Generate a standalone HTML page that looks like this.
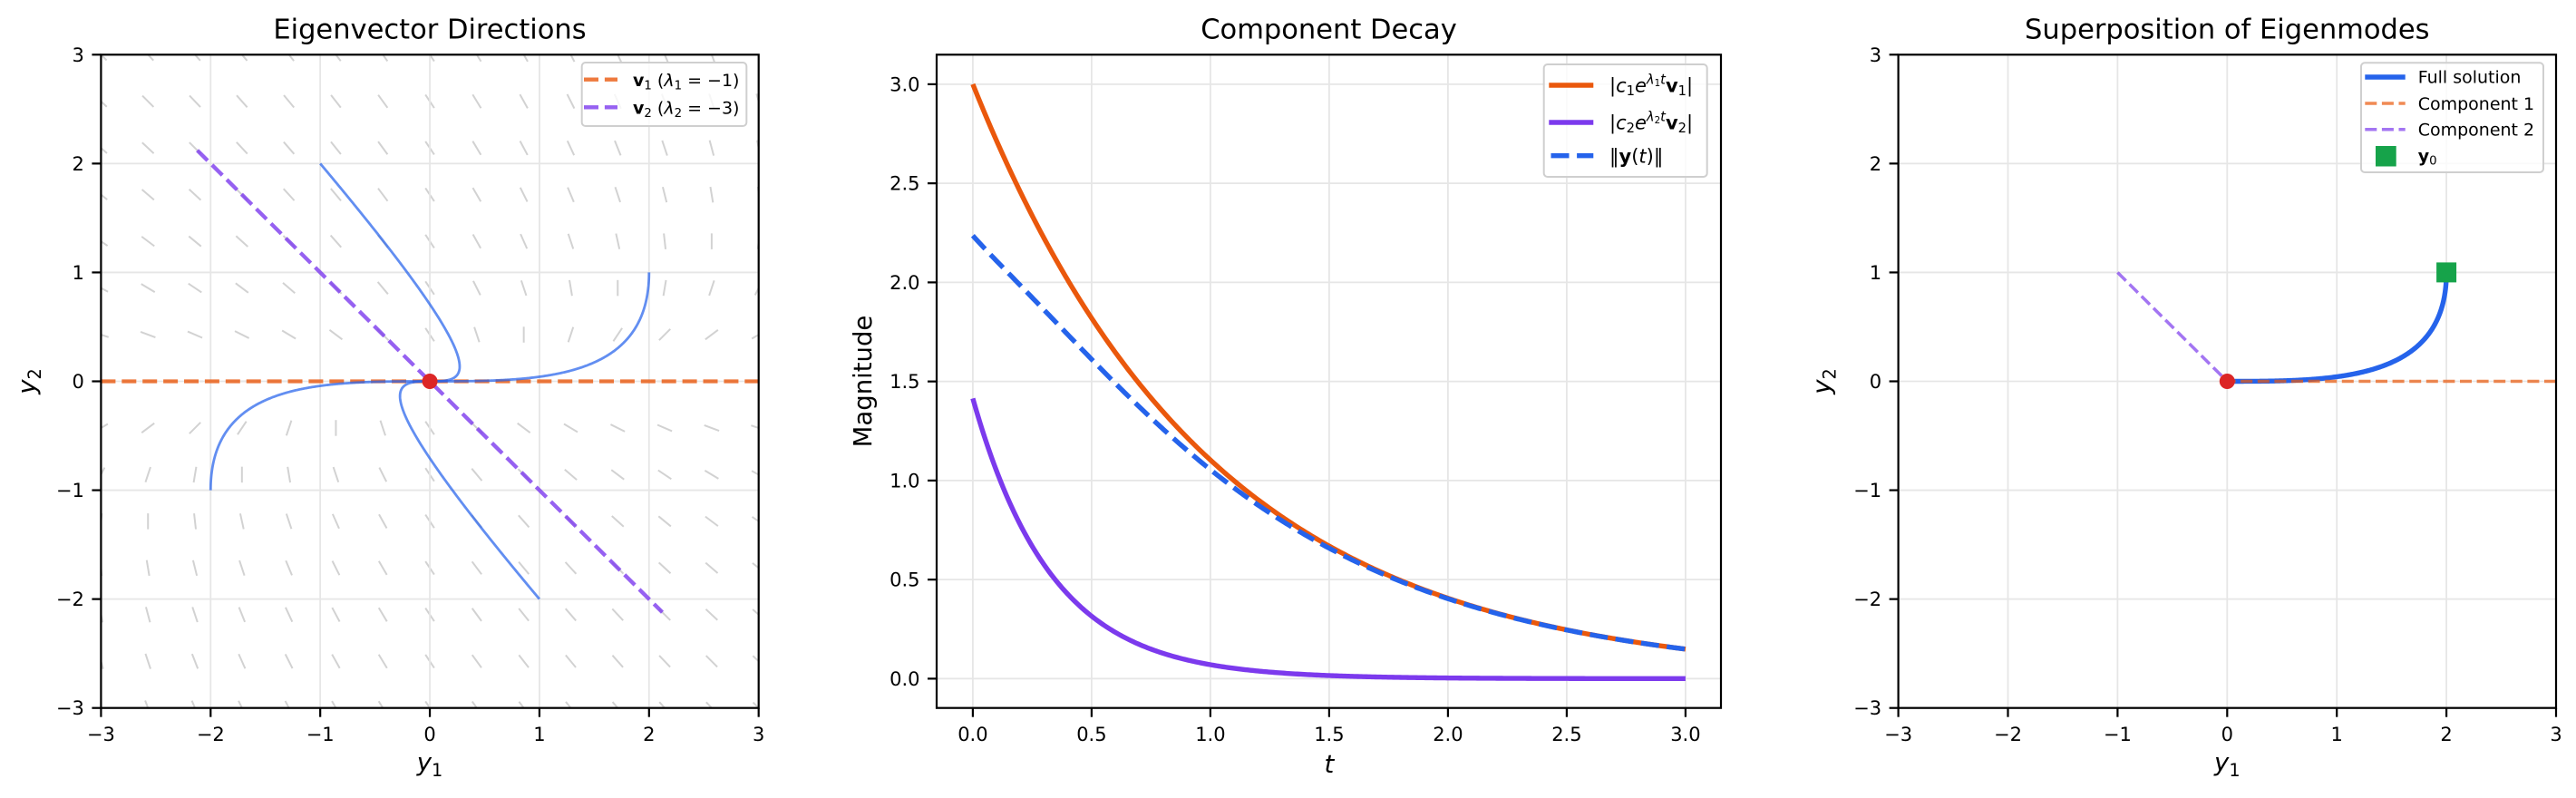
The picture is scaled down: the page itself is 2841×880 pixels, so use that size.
<!DOCTYPE html>
<html><head><meta charset="utf-8">
<style>
html,body{margin:0;padding:0;background:#fff;}
svg{display:block;}
text{font-family:"DejaVu Sans","Liberation Sans",sans-serif;fill:#000;}
</style></head><body>
<svg id="s" width="2841" height="880" viewBox="0 0 2841 880" xmlns="http://www.w3.org/2000/svg">
<defs>
<clipPath id="c1"><rect x="111.4" y="60.3" width="725.3" height="720.4"/></clipPath>
<clipPath id="c2"><rect x="1033" y="60.3" width="865" height="720.4"/></clipPath>
<clipPath id="c3"><rect x="2093.6" y="60.3" width="725.4" height="720.4"/></clipPath>
</defs>
<rect width="2841" height="880" fill="#fff"/>

<!-- ========== AXES 1 ========== -->
<g clip-path="url(#c1)">
  <g id="q1" stroke="#d2d2d2" stroke-width="2" stroke-linecap="butt"></g>
  <g id="grid1" stroke="#e6e6e6" stroke-width="1.8"></g>
  <path id="v1line" fill="none" stroke="#ea580c" stroke-opacity="0.8" stroke-width="4.3" stroke-dasharray="16 6.9"/>
  <path id="v2line" fill="none" stroke="#7c3aed" stroke-opacity="0.8" stroke-width="4.3" stroke-dasharray="16 6.9"/>
  <g id="traj" fill="none" stroke="#2563eb" stroke-opacity="0.72" stroke-width="2.8"></g>
</g>
<g id="ticks1" stroke="#000" stroke-width="2.2"></g>
<rect x="111.4" y="60.3" width="725.3" height="720.4" fill="none" stroke="#000" stroke-width="2.2"/>
<circle cx="474.05" cy="420.5" r="8.5" fill="#dc2626"/>

<text x="474" y="42.7" font-size="30.5" text-anchor="middle">Eigenvector Directions</text>
<g font-size="21" text-anchor="end">
  <text x="92.9" y="68">3</text>
  <text x="92.9" y="188">2</text>
  <text x="92.9" y="308">1</text>
  <text x="92.9" y="428">0</text>
  <text x="92.9" y="548.2">−1</text>
  <text x="92.9" y="668.2">−2</text>
  <text x="92.9" y="788.2">−3</text>
</g>
<g font-size="21" text-anchor="middle">
  <text x="111.4" y="817">−3</text>
  <text x="232.3" y="817">−2</text>
  <text x="353.2" y="817">−1</text>
  <text x="474.05" y="817">0</text>
  <text x="594.9" y="817">1</text>
  <text x="715.8" y="817">2</text>
  <text x="836.7" y="817">3</text>
</g>
<text x="474" y="850" font-size="27.5" text-anchor="middle"><tspan font-style="italic">y</tspan><tspan font-size="19.25" dy="6">1</tspan></text>
<text transform="translate(39,420.5) rotate(-90)" font-size="27.5" text-anchor="middle"><tspan font-style="italic">y</tspan><tspan font-size="19.25" dy="6">2</tspan></text>

<!-- legend 1 -->
<rect x="641.7" y="69" width="181.6" height="70" rx="4" fill="#fff" fill-opacity="0.8" stroke="#cfcfcf" stroke-width="2"/>
<line x1="644" y1="87.7" x2="681" y2="87.7" stroke="#ea580c" stroke-opacity="0.8" stroke-width="4.3" stroke-dasharray="16 6.9"/>
<line x1="644" y1="118.3" x2="681" y2="118.3" stroke="#7c3aed" stroke-opacity="0.8" stroke-width="4.3" stroke-dasharray="16 6.9"/>
<text x="698" y="95" font-size="19"><tspan font-weight="bold">v</tspan><tspan font-size="13.3" dy="3.5">1</tspan><tspan dy="-3.5"> (</tspan><tspan font-style="italic">λ</tspan><tspan font-size="13.3" dy="3.5">1</tspan><tspan dy="-3.5"> = −1)</tspan></text>
<text x="698" y="125.5" font-size="19"><tspan font-weight="bold">v</tspan><tspan font-size="13.3" dy="3.5">2</tspan><tspan dy="-3.5"> (</tspan><tspan font-style="italic">λ</tspan><tspan font-size="13.3" dy="3.5">2</tspan><tspan dy="-3.5"> = −3)</tspan></text>

<!-- ========== AXES 2 ========== -->
<g clip-path="url(#c2)">
  <g id="grid2" stroke="#e6e6e6" stroke-width="1.8"></g>
  <path id="m1" fill="none" stroke="#ea580c" stroke-width="5.4"/>
  <path id="m2" fill="none" stroke="#7c3aed" stroke-width="5.4"/>
  <path id="m3" fill="none" stroke="#2563eb" stroke-width="5.4" stroke-dasharray="20 8.6"/>
</g>
<g id="ticks2" stroke="#000" stroke-width="2.2"></g>
<rect x="1033" y="60.3" width="865" height="720.4" fill="none" stroke="#000" stroke-width="2.2"/>
<text x="1465.5" y="42.7" font-size="30.5" text-anchor="middle">Component Decay</text>
<g font-size="21" text-anchor="end">
  <text x="1014.5" y="755.9">0.0</text>
  <text x="1014.5" y="646.6">0.5</text>
  <text x="1014.5" y="537.4">1.0</text>
  <text x="1014.5" y="428.2">1.5</text>
  <text x="1014.5" y="318.9">2.0</text>
  <text x="1014.5" y="209.6">2.5</text>
  <text x="1014.5" y="100.4">3.0</text>
</g>
<g font-size="21" text-anchor="middle">
  <text x="1072.9" y="817">0.0</text>
  <text x="1203.9" y="817">0.5</text>
  <text x="1334.9" y="817">1.0</text>
  <text x="1465.9" y="817">1.5</text>
  <text x="1596.9" y="817">2.0</text>
  <text x="1727.9" y="817">2.5</text>
  <text x="1858.9" y="817">3.0</text>
</g>
<text x="1465.9" y="852" font-size="27.5" font-style="italic" text-anchor="middle">t</text>
<text transform="translate(961,420.5) rotate(-90)" font-size="27.5" text-anchor="middle">Magnitude</text>

<!-- legend 2 -->
<rect x="1702.7" y="71" width="180" height="124" rx="4" fill="#fff" fill-opacity="0.8" stroke="#cfcfcf" stroke-width="2"/>
<line x1="1708.3" y1="94" x2="1757.3" y2="94" stroke="#ea580c" stroke-width="5.4"/>
<line x1="1708.3" y1="135" x2="1757.3" y2="135" stroke="#7c3aed" stroke-width="5.4"/>
<line x1="1710.5" y1="171.7" x2="1757.3" y2="171.7" stroke="#2563eb" stroke-width="5.4" stroke-dasharray="20 8.6"/>
<text x="1775" y="101.7" font-size="21">|<tspan font-style="italic">c</tspan><tspan font-size="14.7" dy="3.5">1</tspan><tspan font-style="italic" dy="-3.5">e</tspan><tspan font-size="14.7" font-style="italic" dy="-9">λ</tspan><tspan font-size="10.3" dy="2.5">1</tspan><tspan font-size="14.7" font-style="italic" dy="-2.5">t</tspan><tspan font-weight="bold" dy="9">v</tspan><tspan font-size="14.7" dy="3.5">1</tspan><tspan dy="-3.5">|</tspan></text>
<text x="1775" y="142.7" font-size="21">|<tspan font-style="italic">c</tspan><tspan font-size="14.7" dy="3.5">2</tspan><tspan font-style="italic" dy="-3.5">e</tspan><tspan font-size="14.7" font-style="italic" dy="-9">λ</tspan><tspan font-size="10.3" dy="2.5">2</tspan><tspan font-size="14.7" font-style="italic" dy="-2.5">t</tspan><tspan font-weight="bold" dy="9">v</tspan><tspan font-size="14.7" dy="3.5">2</tspan><tspan dy="-3.5">|</tspan></text>
<text x="1775" y="179.4" font-size="21">‖<tspan font-weight="bold">y</tspan>(<tspan font-style="italic">t</tspan>)‖</text>

<!-- ========== AXES 3 ========== -->
<g clip-path="url(#c3)">
  <g id="grid3" stroke="#e6e6e6" stroke-width="1.8"></g>
  <path id="full" fill="none" stroke="#2563eb" stroke-width="5.4"/>
  <path id="comp1" fill="none" stroke="#ea580c" stroke-opacity="0.7" stroke-width="3.5" stroke-dasharray="13 5.6"/>
  <path id="comp2" fill="none" stroke="#7c3aed" stroke-opacity="0.7" stroke-width="3.5" stroke-dasharray="13 5.6"/>
</g>
<g id="ticks3" stroke="#000" stroke-width="2.2"></g>
<rect x="2093.6" y="60.3" width="725.4" height="720.4" fill="none" stroke="#000" stroke-width="2.2"/>
<circle cx="2456.3" cy="420.5" r="8.5" fill="#dc2626"/>
<rect x="2687.1" y="289.4" width="22" height="22" fill="#16a34a"/>

<text x="2456.3" y="42.7" font-size="30.5" text-anchor="middle">Superposition of Eigenmodes</text>
<g font-size="21" text-anchor="end">
  <text x="2075.1" y="68">3</text>
  <text x="2075.1" y="188">2</text>
  <text x="2075.1" y="308">1</text>
  <text x="2075.1" y="428">0</text>
  <text x="2075.1" y="548.2">−1</text>
  <text x="2075.1" y="668.2">−2</text>
  <text x="2075.1" y="788.2">−3</text>
</g>
<g font-size="21" text-anchor="middle">
  <text x="2093.6" y="817">−3</text>
  <text x="2214.5" y="817">−2</text>
  <text x="2335.4" y="817">−1</text>
  <text x="2456.3" y="817">0</text>
  <text x="2577.2" y="817">1</text>
  <text x="2698.1" y="817">2</text>
  <text x="2819" y="817">3</text>
</g>
<text x="2456.3" y="850" font-size="27.5" text-anchor="middle"><tspan font-style="italic">y</tspan><tspan font-size="19.25" dy="6">1</tspan></text>
<text transform="translate(2018.5,420.5) rotate(-90)" font-size="27.5" text-anchor="middle"><tspan font-style="italic">y</tspan><tspan font-size="19.25" dy="6">2</tspan></text>

<!-- legend 3 -->
<rect x="2604" y="69.3" width="201" height="120.7" rx="4" fill="#fff" fill-opacity="0.8" stroke="#cfcfcf" stroke-width="2"/>
<line x1="2608.3" y1="85" x2="2652.7" y2="85" stroke="#2563eb" stroke-width="5.4"/>
<line x1="2608.3" y1="114" x2="2652.7" y2="114" stroke="#ea580c" stroke-opacity="0.7" stroke-width="3.5" stroke-dasharray="13 5.6"/>
<line x1="2608.3" y1="142.7" x2="2652.7" y2="142.7" stroke="#7c3aed" stroke-opacity="0.7" stroke-width="3.5" stroke-dasharray="13 5.6"/>
<rect x="2620" y="161" width="22.7" height="22.5" fill="#16a34a"/>
<text x="2666.7" y="91.7" font-size="19">Full solution</text>
<text x="2666.7" y="120.8" font-size="19">Component 1</text>
<text x="2666.7" y="149.5" font-size="19">Component 2</text>
<text x="2666.7" y="178.5" font-size="19"><tspan font-weight="bold">y</tspan><tspan font-size="13.3" dy="3">0</tspan></text>
</svg>

<script>
(function(){
const NS="http://www.w3.org/2000/svg";
function el(p,tag,a){const e=document.createElementNS(NS,tag);for(const k in a)e.setAttribute(k,a[k]);p.appendChild(e);return e;}
function P(pts){return pts.map((p,i)=>(i?'L':'M')+p[0].toFixed(2)+' '+p[1].toFixed(2)).join('');}
const $=id=>document.getElementById(id);

// Axes 1 / 3 mappings
const X1=x=>474.05+120.88*x, Y1=y=>420.5-120.07*y;
const X3=x=>2456.3+120.9*x;
const X2=t=>1072.9+262*t, Y2=m=>748.4-218.5*m;

// grids & ticks
function gridTicks(gid,tid,xs,ys,L,R,T,B){
  const g=$(gid), tk=$(tid);
  xs.forEach(x=>{el(g,'line',{x1:x,y1:T,x2:x,y2:B}); el(tk,'line',{x1:x,y1:B,x2:x,y2:B+10});});
  ys.forEach(y=>{el(g,'line',{x1:L,y1:y,x2:R,y2:y}); el(tk,'line',{x1:L-10,y1:y,x2:L,y2:y});});
}
const ints=[-3,-2,-1,0,1,2,3];
gridTicks('grid1','ticks1',ints.map(X1),ints.map(Y1),111.4,836.7,60.3,780.7);
gridTicks('grid3','ticks3',ints.map(X3),ints.map(Y1),2093.6,2819,60.3,780.7);
const hs=[0,0.5,1,1.5,2,2.5,3];
gridTicks('grid2','ticks2',hs.map(X2),hs.map(Y2),1033,1898,60.3,780.7);

// quiver (direction field of A=[[-1,2],[0,-3]])
const q=$('q1'), h=8.75;
for(let i=0;i<15;i++)for(let j=0;j<15;j++){
  const x=-3+i*6/14, y=-3+j*6/14;
  const U=-x+2*y, V=-3*y, n=Math.hypot(U,V);
  if(n<1e-9)continue;
  const ux=U/n, uy=V/n, cx=X1(x), cy=Y1(y);
  el(q,'line',{x1:(cx-ux*h).toFixed(2),y1:(cy+uy*h).toFixed(2),x2:(cx+ux*h).toFixed(2),y2:(cy-uy*h).toFixed(2)});
}

// eigen lines
$('v1line').setAttribute('d',P([[X1(-3),Y1(0)],[X1(3),Y1(0)]]));
const s=3/Math.SQRT2;
$('v2line').setAttribute('d',P([[X1(-s),Y1(s)],[X1(s),Y1(-s)]]));

// trajectories
const tr=$('traj');
[[-1,2],[2,1],[-2,-1],[1,-2]].forEach(([a,b])=>{
  const c2=-b, c1=a+b, pts=[];
  for(let k=0;k<=700;k++){const t=8*Math.pow(k/700,1.6);
    const e1=Math.exp(-t), e3=Math.exp(-3*t);
    pts.push([X1(c1*e1+c2*e3),Y1(-c2*e3)]);}
  el(tr,'path',{d:P(pts)});
});

// middle curves
const a=[],b=[],c=[];
for(let k=0;k<=400;k++){const t=3*k/400;
  const e1=Math.exp(-t), e3=Math.exp(-3*t);
  a.push([X2(t),Y2(3*e1)]);
  b.push([X2(t),Y2(Math.SQRT2*e3)]);
  c.push([X2(t),Y2(Math.hypot(3*e1-e3,e3))]);}
$('m1').setAttribute('d',P(a));
$('m2').setAttribute('d',P(b));
$('m3').setAttribute('d',P(c));

// right plot
const f=[],p1=[],p2=[];
for(let k=0;k<=600;k++){const t=8*Math.pow(k/600,1.6);
  const e1=Math.exp(-t), e3=Math.exp(-3*t);
  f.push([X3(3*e1-e3),Y1(e3)]);
  p1.push([X3(3*e1),Y1(0)]);
  p2.push([X3(-e3),Y1(e3)]);}
$('full').setAttribute('d',P(f));
$('comp1').setAttribute('d',P(p1));
$('comp2').setAttribute('d',P(p2));
})();
</script>
</body></html>
